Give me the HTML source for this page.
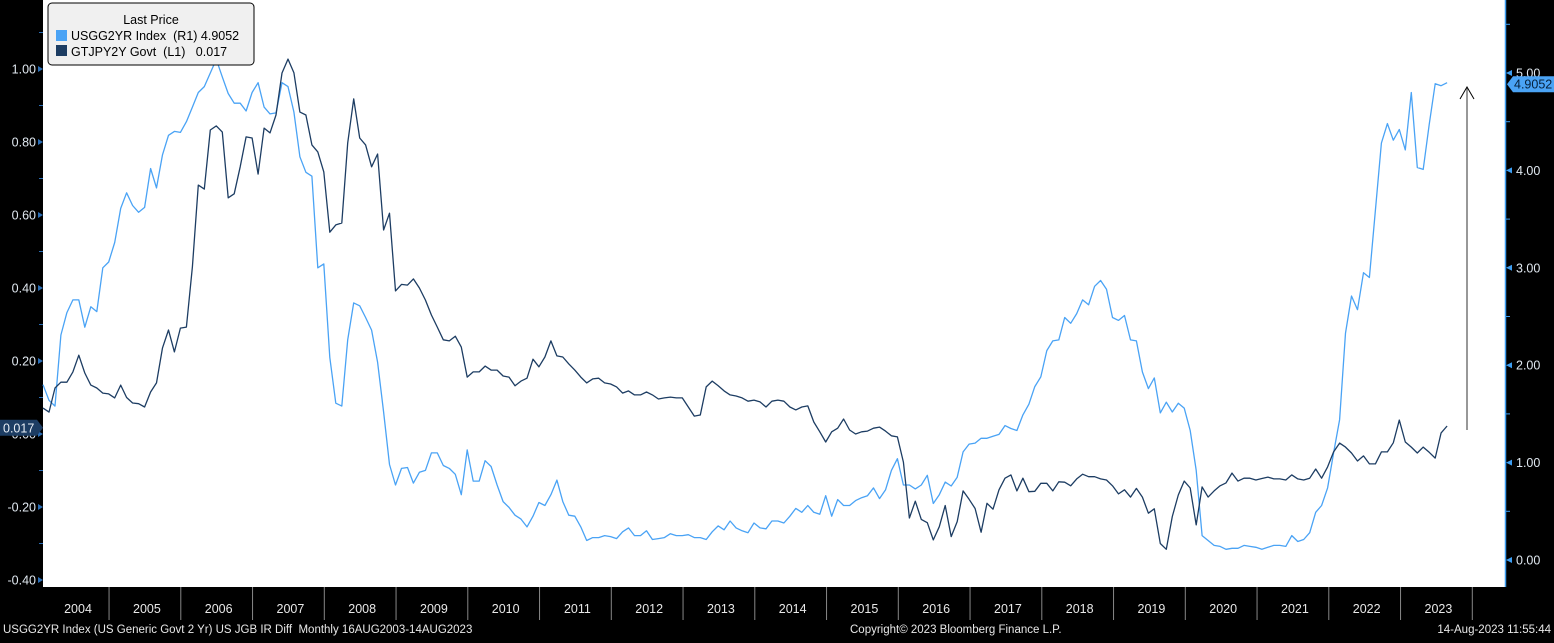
<!DOCTYPE html>
<html><head><meta charset="utf-8">
<style>
html,body{margin:0;padding:0;background:#000;}
body{width:1554px;height:638px;overflow:hidden;font-family:"Liberation Sans","DejaVu Sans",sans-serif;}
svg text{font-family:"Liberation Sans","DejaVu Sans",sans-serif;}
</style></head>
<body>
<svg id="chart" width="1554" height="638" viewBox="0 0 1554 638" xmlns="http://www.w3.org/2000/svg">
  <rect x="0" y="0" width="1554" height="638" fill="#000"/>
  <rect x="43" y="0" width="1462" height="587" fill="#fff"/>
  <g id="axes"></g>
  <g id="series"></g>
  <g>
    <line x1="1467" y1="430" x2="1467" y2="88" stroke="#777" stroke-width="1.5"/>
    <polyline points="1460,99 1467,87 1474,99" fill="none" stroke="#000" stroke-width="1"/>
  </g>
  <g>
    <rect x="48" y="3" width="206" height="62" rx="4" fill="#f0f0f0" stroke="#000" stroke-width="1"/>
    <text x="151" y="24" font-size="12.5" fill="#000" text-anchor="middle">Last Price</text>
    <rect x="56" y="30" width="11" height="11" fill="#4aa3f5"/>
    <text x="71" y="40" font-size="12.5" fill="#000" xml:space="preserve">USGG2YR Index  (R1) 4.9052</text>
    <rect x="56" y="45" width="11" height="11" fill="#1d3d63"/>
    <text x="71" y="56" font-size="12.5" fill="#000" xml:space="preserve">GTJPY2Y Govt  (L1)   0.017</text>
  </g>
  <text x="3" y="633" font-size="11.5" fill="#e8e8e8" xml:space="preserve">USGG2YR Index (US Generic Govt 2 Yr) US JGB IR Diff  Monthly 16AUG2003-14AUG2023</text>
  <text x="850" y="633" font-size="11.5" fill="#e8e8e8">Copyright© 2023 Bloomberg Finance L.P.</text>
  <text x="1551" y="633" font-size="11.5" fill="#e8e8e8" text-anchor="end">14-Aug-2023 11:55:44</text>
</svg>
<script>
const years = [2004,2005,2006,2007,2008,2009,2010,2011,2012,2013,2014,2015,2016,2017,2018,2019,2020,2021,2022,2023];
const leftTicks = [1.0,0.8,0.6,0.4,0.2,0.0,-0.2,-0.4];
const leftTickLabels = ["1.00","0.80","0.60","0.40","0.20","0.00","-0.20","-0.40"];
const rightTicks = [5,4,3,2,1,0];
const rightTickLabels = ["5.00","4.00","3.00","2.00","1.00","0.00"];
const startYear = 2004;
const lastJgb = 0.017;
const lastUsgg = 4.9052;
// GTJPY2Y Govt (left axis), monthly from Jan 2004
const jgb = [
0.071,0.06,0.126,0.142,0.142,0.17,0.216,0.167,0.134,0.126,0.112,0.11,0.099,0.134,0.10,0.085,0.083,0.074,0.115,0.14,
0.236,0.285,0.225,0.29,0.293,0.458,0.682,0.671,0.833,0.844,0.827,0.647,0.658,0.732,0.814,0.811,0.712,0.838,0.825,0.874,
0.989,1.027,0.99,0.882,0.874,0.792,0.773,0.718,0.553,0.573,0.578,0.797,0.918,0.811,0.792,0.732,0.767,0.559,0.605,0.392,
0.41,0.408,
0.425,0.40,0.367,0.326,0.293,0.258,0.255,0.268,0.238,0.156,0.17,0.17,0.186,0.175,0.175,0.159,0.156,0.132,0.145,0.153,
0.205,0.184,0.211,0.255,0.214,0.211,0.192,0.175,0.156,0.14,0.151,0.153,0.14,0.137,0.129,0.112,0.118,0.107,0.107,0.115,
0.107,0.096,0.099,0.101,0.099,0.099,0.074,0.049,0.052,0.129,0.145,0.132,0.118,0.107,0.104,0.099,0.09,0.093,0.088,0.074,
0.09,0.093,0.09,0.074,0.066,0.074,0.077,0.033,0.006,-0.022,0.006,0.016,0.041,0.011,0.0,0.006,0.008,0.016,0.019,0.008,
-0.005,-0.008,-0.077,-0.23,-0.184,
-0.234,-0.243,-0.29,-0.254,-0.196,-0.281,-0.24,-0.156,-0.179,-0.204,-0.269,-0.19,-0.206,-0.153,-0.121,-0.112,-0.156,-0.121,-0.158,-0.157,
-0.135,-0.135,-0.156,-0.131,-0.132,-0.142,-0.123,-0.11,-0.117,-0.117,-0.123,-0.126,-0.142,-0.164,-0.153,-0.173,-0.149,-0.173,-0.217,-0.205,
-0.30,-0.316,-0.226,
-0.167,-0.129,-0.148,-0.249,-0.145,-0.173,-0.156,-0.142,-0.134,-0.107,-0.129,-0.121,-0.121,-0.126,-0.122,-0.118,-0.123,-0.123,-0.126,-0.112,
-0.123,-0.126,-0.121,-0.096,-0.121,-0.09,-0.049,-0.025,-0.036,-0.052,-0.074,-0.06,-0.082,-0.082,-0.049,-0.049,-0.024,0.038,-0.022,-0.036,
-0.052,-0.036,-0.05,-0.066,0.003,0.022
];
// USGG2YR Index (right axis), monthly from Jan 2004
const usgg = [
1.80,1.64,1.58,2.31,2.54,2.67,2.67,2.39,2.60,2.55,3.00,3.06,3.26,3.61,3.77,3.64,3.57,3.62,4.02,3.82,
4.16,4.36,4.40,4.39,4.50,4.65,4.80,4.86,5.00,5.14,4.96,4.79,4.69,4.69,4.61,4.80,4.90,4.65,4.58,4.59,
4.90,4.86,4.60,4.14,3.98,3.94,3.00,3.04,2.08,1.61,1.58,2.26,2.64,2.61,2.49,2.36,2.03,1.52,0.98,0.77,
0.94,0.95,
0.79,0.90,0.92,1.10,1.10,0.97,0.94,0.88,0.67,1.13,0.81,0.81,1.02,0.96,0.77,0.60,0.54,0.46,0.42,0.34,
0.45,0.59,0.56,0.67,0.82,0.60,0.46,0.45,0.34,0.20,0.23,0.23,0.25,0.24,0.22,0.29,0.33,0.25,0.25,0.30,
0.21,0.22,0.23,0.27,0.25,0.25,0.26,0.23,0.23,0.21,0.29,0.35,0.31,0.40,0.33,0.30,0.28,0.38,0.33,0.32,
0.40,0.40,0.38,0.45,0.53,0.49,0.56,0.49,0.47,0.66,0.45,0.62,0.56,0.56,0.61,0.64,0.66,0.74,0.63,0.72,
0.92,1.04,0.77,0.77,0.73,
0.77,0.87,0.58,0.67,0.80,0.76,0.85,1.11,1.19,1.20,1.25,1.25,1.27,1.29,1.38,1.35,1.33,1.49,1.60,1.78,
1.88,2.15,2.25,2.26,2.49,2.43,2.53,2.67,2.62,2.81,2.87,2.78,2.49,2.46,2.51,2.26,2.25,1.93,1.76,1.87,
1.51,1.62,1.52,
1.61,1.56,1.33,0.92,0.25,0.20,0.15,0.14,0.11,0.12,0.12,0.15,0.14,0.13,0.11,0.13,0.15,0.15,0.14,0.25,
0.19,0.21,0.28,0.49,0.56,0.74,1.10,1.44,2.33,2.71,2.57,2.95,2.90,3.59,4.28,4.48,4.31,4.42,4.21,4.80,
4.03,4.01,4.47,4.89,4.87,4.90
];

const NS = "http://www.w3.org/2000/svg";
const axesG = document.getElementById('axes');
const seriesG = document.getElementById('series');
function xMonth(i){ return 43 + i*5.975; }
function xYear(y){ return 37.3 + (y-startYear)*71.75; }
function yLeft(v){ return 69 + (1 - v)*365; }
function yRight(v){ return 560 - v*97.4; }
function mk(tag, attrs){ const e=document.createElementNS(NS,tag); for(const k in attrs) e.setAttribute(k,attrs[k]); return e; }

// Left axis
for (let i=0;i<leftTicks.length;i++){
  const y=yLeft(leftTicks[i]);
  const tk=mk('polygon',{points:`43,${y} 38,${y-3} 38,${y+3}`,fill:'#2a6db5'});
  
  
  axesG.appendChild(tk);
  const minor=mk('line',{x1:39,x2:43,y1:y+182.5*0.2,y2:y+182.5*0.2,stroke:'#2a6db5','stroke-width':1});
  
  
  if (i<leftTicks.length-1) axesG.appendChild(minor);
  const t=mk('text',{x:36,y:y+4.5,'font-size':12.5,fill:'#e0e8f0','text-anchor':'end'});
  t.textContent=leftTickLabels[i];
  
  
  axesG.appendChild(t);
}
{ const y=yLeft(1.2); const minor=mk('line',{x1:39,x2:43,y1:y+36.5,y2:y+36.5,stroke:'#2a6db5'});   axesG.appendChild(minor); }

// Right axis
const rLine=mk('line',{x1:1505.5,x2:1505.5,y1:0,y2:587,stroke:'#3d9df0','stroke-width':1.5});


axesG.appendChild(rLine);
for (let i=0;i<rightTicks.length;i++){
  const y=yRight(rightTicks[i]);
  const tk=mk('polygon',{points:`1506,${y} 1512,${y-3} 1512,${y+3}`,fill:'#3d9df0'});
  
  
  axesG.appendChild(tk);
  const my=yRight(rightTicks[i]+0.5);
  const minor=mk('line',{x1:1506,x2:1510,y1:my,y2:my,stroke:'#3d9df0'});
  
  
  axesG.appendChild(minor);
  const t=mk('text',{x:1516,y:y+4.5,'font-size':12.5,fill:'#e0e8f0'});
  t.textContent=rightTickLabels[i];
  
  
  axesG.appendChild(t);
}

// X axis year separators and labels
for (let i=0;i<years.length;i++){
  const x0=xYear(years[i]), x1=xYear(years[i]+1);
  if (i>0){
    const s=mk('line',{x1:x0,x2:x0,y1:587,y2:620,stroke:'#888','stroke-width':1});
    
    
    axesG.appendChild(s);
  }
  const t=mk('text',{x:(Math.max(x0,43)+x1)/2+2,y:613,'font-size':12.5,fill:'#e8e8e8','text-anchor':'middle'});
  t.textContent=String(years[i]);
  
  
  axesG.appendChild(t);
}
{ const x=xYear(2024); const s=mk('line',{x1:x,x2:x,y1:587,y2:620,stroke:'#888'});   axesG.appendChild(s); }

// Series
function pathFor(arr, yf){ return arr.map((v,i)=>(i?'L':'M')+xMonth(i).toFixed(1)+','+yf(v).toFixed(1)).join(' '); }
const pU=mk('path',{d:pathFor(usgg,yRight),fill:'none',stroke:'#4aa3f5','stroke-width':1.3,'stroke-linejoin':'round'});


seriesG.appendChild(pU);
const pJ=mk('path',{d:pathFor(jgb,yLeft),fill:'none',stroke:'#1d3d63','stroke-width':1.3,'stroke-linejoin':'round'});


seriesG.appendChild(pJ);

// Last value callouts
{
  const y=yLeft(lastJgb);
  const g=mk('g',{});
  
  
  g.appendChild(mk('polygon',{points:`0,${y-8} 37,${y-8} 43,${y} 37,${y+8} 0,${y+8}`,fill:'#1d3d63'}));
  const t=mk('text',{x:3,y:y+4.5,'font-size':12.5,fill:'#e8eef5'}); t.textContent=lastJgb.toFixed(3); g.appendChild(t);
  axesG.appendChild(g);
}
{
  const y=yRight(lastUsgg)+2;
  const g=mk('g',{});
  
  
  g.appendChild(mk('polygon',{points:`1507,${y} 1513,${y-8} 1554,${y-8} 1554,${y+8} 1513,${y+8}`,fill:'#4aa3f5'}));
  const t=mk('text',{x:1514,y:y+4.5,'font-size':12.5,fill:'#06203a'}); t.textContent=lastUsgg.toFixed(4); g.appendChild(t);
  axesG.appendChild(g);
}
</script>
</body></html>
